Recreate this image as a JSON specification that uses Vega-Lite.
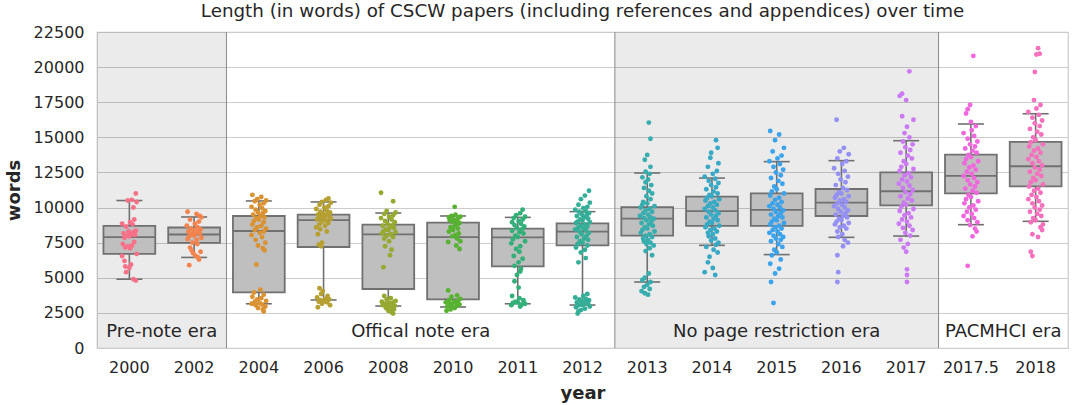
{
"$schema": "https://vega.github.io/schema/vega-lite/v6.json",
"width": 971, "height": 316,
"autosize": {"type": "none"},
"padding": {"left": 97, "top": 32, "right": 10, "bottom": 57},
"background": "white",
"title": {"text": "Length (in words) of CSCW papers (including references and appendices) over time", "fontSize": 18.3, "font": "DejaVu Sans", "fontWeight": "normal", "color": "#262626", "offset": 3},
"config": {
  "font": "DejaVu Sans",
  "view": {"stroke": "#cccccc", "strokeWidth": 1.25},
  "axis": {"labelFont": "DejaVu Sans", "titleFont": "DejaVu Sans", "labelColor": "#262626", "titleColor": "#262626", "labelFontSize": 16, "titleFontSize": 18, "titleFontWeight": "bold", "ticks": false, "domain": false},
  "axisY": {"grid": true, "gridColor": "#cccccc", "gridWidth": 1, "labelPadding": 13, "titlePadding": 10},
  "axisX": {"grid": false, "labelAngle": 0, "labelPadding": 11, "titlePadding": 9}
},
"datasets": {
  "eras": [
    {"era": "Pre-note era", "s": 0, "e": 2, "mid": 1, "shade": 1},
    {"era": "Offical note era", "s": 2, "e": 8, "mid": 5, "shade": 0},
    {"era": "No page restriction era", "s": 8, "e": 13, "mid": 10.5, "shade": 1},
    {"era": "PACMHCI era", "s": 13, "e": 15, "mid": 14, "shade": 0}
  ],
  "boxes": [
    {"year": "2000", "lo": 4900, "q1": 6700, "med": 7900, "q3": 8700, "hi": 10500},
    {"year": "2002", "lo": 6450, "q1": 7480, "med": 8080, "q3": 8580, "hi": 9330},
    {"year": "2004", "lo": 3150, "q1": 3960, "med": 8330, "q3": 9400, "hi": 10470},
    {"year": "2006", "lo": 3420, "q1": 7190, "med": 9110, "q3": 9490, "hi": 10400},
    {"year": "2008", "lo": 2990, "q1": 4200, "med": 8090, "q3": 8780, "hi": 9610},
    {"year": "2010", "lo": 2920, "q1": 3460, "med": 7900, "q3": 8920, "hi": 9400},
    {"year": "2011", "lo": 3150, "q1": 5810, "med": 7880, "q3": 8500, "hi": 9300},
    {"year": "2012", "lo": 3060, "q1": 7310, "med": 8280, "q3": 8880, "hi": 9710},
    {"year": "2013", "lo": 4700, "q1": 8000, "med": 9210, "q3": 10020, "hi": 12460},
    {"year": "2014", "lo": 7310, "q1": 8690, "med": 9750, "q3": 10780, "hi": 12100},
    {"year": "2015", "lo": 6650, "q1": 8690, "med": 9830, "q3": 11010, "hi": 13270},
    {"year": "2016", "lo": 7880, "q1": 9400, "med": 10350, "q3": 11320, "hi": 13340},
    {"year": "2017", "lo": 7970, "q1": 10160, "med": 11160, "q3": 12510, "hi": 14760},
    {"year": "2017.5", "lo": 8780, "q1": 11010, "med": 12250, "q3": 13770, "hi": 15950},
    {"year": "2018", "lo": 9020, "q1": 11510, "med": 12940, "q3": 14670, "hi": 16680}
  ],
  "pts": [
{"year":"2000","words":11000,"jit":0.8},{"year":"2000","words":10550,"jit":0.3},{"year":"2000","words":10500,"jit":-0.2},{"year":"2000","words":10400,"jit":0.9},{"year":"2000","words":10000,"jit":0.5},{"year":"2000","words":9150,"jit":0.6},{"year":"2000","words":8950,"jit":0.1},{"year":"2000","words":8850,"jit":-0.9},{"year":"2000","words":8800,"jit":0.4},{"year":"2000","words":8650,"jit":-0.4},{"year":"2000","words":8350,"jit":0.8},{"year":"2000","words":8300,"jit":-0.1},{"year":"2000","words":8250,"jit":0.5},{"year":"2000","words":8150,"jit":-0.7},{"year":"2000","words":8100,"jit":0.2},{"year":"2000","words":8050,"jit":0.7},{"year":"2000","words":8000,"jit":-0.3},{"year":"2000","words":7950,"jit":0},{"year":"2000","words":7850,"jit":-0.6},{"year":"2000","words":7550,"jit":0.6},{"year":"2000","words":7400,"jit":-0.8},{"year":"2000","words":7300,"jit":0.3},{"year":"2000","words":7250,"jit":-0.2},{"year":"2000","words":7150,"jit":-0.5},{"year":"2000","words":7100,"jit":0.1},{"year":"2000","words":6700,"jit":0.9},{"year":"2000","words":6550,"jit":-0.9},{"year":"2000","words":6200,"jit":-0.6},{"year":"2000","words":5950,"jit":0.2},{"year":"2000","words":5800,"jit":-0.5},{"year":"2000","words":5700,"jit":0},{"year":"2000","words":5400,"jit":-0.4},{"year":"2000","words":4900,"jit":0.5},{"year":"2000","words":4800,"jit":0.8},
{"year":"2002","words":9700,"jit":-0.8},{"year":"2002","words":9550,"jit":0.3},{"year":"2002","words":9400,"jit":0.7},{"year":"2002","words":9300,"jit":0.9},{"year":"2002","words":9150,"jit":-0.5},{"year":"2002","words":9000,"jit":0.6},{"year":"2002","words":8850,"jit":0.1},{"year":"2002","words":8700,"jit":-0.9},{"year":"2002","words":8600,"jit":0.4},{"year":"2002","words":8500,"jit":-0.4},{"year":"2002","words":8450,"jit":0.8},{"year":"2002","words":8400,"jit":-0.1},{"year":"2002","words":8350,"jit":0.5},{"year":"2002","words":8300,"jit":-0.7},{"year":"2002","words":8200,"jit":0.2},{"year":"2002","words":8150,"jit":0.7},{"year":"2002","words":8100,"jit":-0.3},{"year":"2002","words":8000,"jit":0},{"year":"2002","words":7950,"jit":-0.6},{"year":"2002","words":7850,"jit":0.9},{"year":"2002","words":7750,"jit":-0.8},{"year":"2002","words":7700,"jit":0.3},{"year":"2002","words":7500,"jit":-0.2},{"year":"2002","words":7400,"jit":0.4},{"year":"2002","words":7150,"jit":-0.5},{"year":"2002","words":6950,"jit":-0.3},{"year":"2002","words":6850,"jit":0.8},{"year":"2002","words":6750,"jit":-0.1},{"year":"2002","words":6550,"jit":0.2},{"year":"2002","words":6450,"jit":0.5},{"year":"2002","words":6300,"jit":0.6},{"year":"2002","words":5900,"jit":-0.6},
{"year":"2004","words":10900,"jit":-0.8},{"year":"2004","words":10750,"jit":0.3},{"year":"2004","words":10600,"jit":-0.2},{"year":"2004","words":10500,"jit":0.9},{"year":"2004","words":10450,"jit":-0.5},{"year":"2004","words":10300,"jit":0.6},{"year":"2004","words":10200,"jit":0.1},{"year":"2004","words":10050,"jit":-0.9},{"year":"2004","words":9950,"jit":0.4},{"year":"2004","words":9850,"jit":-0.4},{"year":"2004","words":9750,"jit":0.8},{"year":"2004","words":9650,"jit":-0.1},{"year":"2004","words":9600,"jit":0.5},{"year":"2004","words":9500,"jit":-0.7},{"year":"2004","words":9400,"jit":0.2},{"year":"2004","words":9300,"jit":0.7},{"year":"2004","words":9250,"jit":-0.3},{"year":"2004","words":9150,"jit":0},{"year":"2004","words":9050,"jit":-0.6},{"year":"2004","words":8950,"jit":0.6},{"year":"2004","words":8800,"jit":-0.8},{"year":"2004","words":8700,"jit":0.3},{"year":"2004","words":8600,"jit":-0.2},{"year":"2004","words":8500,"jit":0.9},{"year":"2004","words":8400,"jit":-0.5},{"year":"2004","words":8300,"jit":0.6},{"year":"2004","words":8200,"jit":0.1},{"year":"2004","words":8050,"jit":-0.9},{"year":"2004","words":7900,"jit":0.4},{"year":"2004","words":7700,"jit":-0.4},{"year":"2004","words":7500,"jit":0.8},{"year":"2004","words":7300,"jit":-0.1},{"year":"2004","words":7100,"jit":0.5},{"year":"2004","words":6950,"jit":0.7},{"year":"2004","words":5950,"jit":-0.3},{"year":"2004","words":4150,"jit":0.2},{"year":"2004","words":3950,"jit":-0.6},{"year":"2004","words":3800,"jit":0.6},{"year":"2004","words":3650,"jit":-0.8},{"year":"2004","words":3550,"jit":0.3},{"year":"2004","words":3450,"jit":-0.2},{"year":"2004","words":3350,"jit":0.9},{"year":"2004","words":3300,"jit":-0.5},{"year":"2004","words":3200,"jit":0.1},{"year":"2004","words":3150,"jit":-0.9},{"year":"2004","words":3100,"jit":0.4},{"year":"2004","words":3050,"jit":-0.4},{"year":"2004","words":2950,"jit":0.8},{"year":"2004","words":2850,"jit":-0.1},{"year":"2004","words":2750,"jit":0.5},{"year":"2004","words":2600,"jit":0.6},
{"year":"2006","words":10650,"jit":0.6},{"year":"2006","words":10550,"jit":0.3},{"year":"2006","words":10400,"jit":-0.2},{"year":"2006","words":10350,"jit":0.9},{"year":"2006","words":10200,"jit":-0.5},{"year":"2006","words":10100,"jit":0.6},{"year":"2006","words":10000,"jit":0.1},{"year":"2006","words":9900,"jit":-0.9},{"year":"2006","words":9800,"jit":0.4},{"year":"2006","words":9700,"jit":-0.4},{"year":"2006","words":9650,"jit":0.8},{"year":"2006","words":9600,"jit":-0.1},{"year":"2006","words":9550,"jit":0.5},{"year":"2006","words":9500,"jit":-0.7},{"year":"2006","words":9450,"jit":0.2},{"year":"2006","words":9400,"jit":0.7},{"year":"2006","words":9350,"jit":-0.3},{"year":"2006","words":9300,"jit":0},{"year":"2006","words":9250,"jit":-0.6},{"year":"2006","words":9200,"jit":0.9},{"year":"2006","words":9150,"jit":-0.8},{"year":"2006","words":9100,"jit":0.3},{"year":"2006","words":9000,"jit":-0.2},{"year":"2006","words":8900,"jit":0.6},{"year":"2006","words":8800,"jit":-0.5},{"year":"2006","words":8700,"jit":0.2},{"year":"2006","words":8600,"jit":-0.9},{"year":"2006","words":8450,"jit":-0.4},{"year":"2006","words":8300,"jit":0.4},{"year":"2006","words":8100,"jit":-0.7},{"year":"2006","words":7500,"jit":-0.2},{"year":"2006","words":7350,"jit":-0.6},{"year":"2006","words":7250,"jit":-0.3},{"year":"2006","words":4250,"jit":-0.5},{"year":"2006","words":4050,"jit":-0.1},{"year":"2006","words":3850,"jit":-0.3},{"year":"2006","words":3700,"jit":0.5},{"year":"2006","words":3600,"jit":-0.8},{"year":"2006","words":3500,"jit":0.2},{"year":"2006","words":3450,"jit":0.7},{"year":"2006","words":3400,"jit":-0.4},{"year":"2006","words":3350,"jit":0.1},{"year":"2006","words":3300,"jit":-0.6},{"year":"2006","words":3250,"jit":0.4},{"year":"2006","words":3150,"jit":-0.2},{"year":"2006","words":3050,"jit":0.8},{"year":"2006","words":2900,"jit":-0.7},
{"year":"2008","words":11050,"jit":-0.9},{"year":"2008","words":10450,"jit":0.6},{"year":"2008","words":9750,"jit":-0.2},{"year":"2008","words":9650,"jit":0.9},{"year":"2008","words":9550,"jit":-0.5},{"year":"2008","words":9450,"jit":0.6},{"year":"2008","words":9350,"jit":0.1},{"year":"2008","words":9250,"jit":-0.9},{"year":"2008","words":9150,"jit":0.4},{"year":"2008","words":9050,"jit":-0.4},{"year":"2008","words":8950,"jit":0.8},{"year":"2008","words":8850,"jit":-0.1},{"year":"2008","words":8750,"jit":0.5},{"year":"2008","words":8700,"jit":-0.7},{"year":"2008","words":8600,"jit":0.2},{"year":"2008","words":8550,"jit":0.7},{"year":"2008","words":8450,"jit":-0.3},{"year":"2008","words":8400,"jit":0},{"year":"2008","words":8300,"jit":-0.6},{"year":"2008","words":8250,"jit":0.9},{"year":"2008","words":8150,"jit":-0.8},{"year":"2008","words":8100,"jit":0.3},{"year":"2008","words":8000,"jit":-0.2},{"year":"2008","words":7900,"jit":0.6},{"year":"2008","words":7800,"jit":-0.5},{"year":"2008","words":7600,"jit":0.1},{"year":"2008","words":7250,"jit":-0.4},{"year":"2008","words":7000,"jit":0.4},{"year":"2008","words":6600,"jit":0.2},{"year":"2008","words":5750,"jit":-0.6},{"year":"2008","words":3700,"jit":-0.5},{"year":"2008","words":3550,"jit":0.3},{"year":"2008","words":3450,"jit":-0.2},{"year":"2008","words":3350,"jit":0.9},{"year":"2008","words":3300,"jit":-0.8},{"year":"2008","words":3250,"jit":0.6},{"year":"2008","words":3200,"jit":0.1},{"year":"2008","words":3150,"jit":-0.4},{"year":"2008","words":3100,"jit":0.4},{"year":"2008","words":3050,"jit":-0.7},{"year":"2008","words":3000,"jit":0.8},{"year":"2008","words":2950,"jit":-0.1},{"year":"2008","words":2900,"jit":0.5},{"year":"2008","words":2850,"jit":-0.3},{"year":"2008","words":2800,"jit":0.2},{"year":"2008","words":2750,"jit":0.7},{"year":"2008","words":2650,"jit":0},{"year":"2008","words":2550,"jit":0.4},{"year":"2008","words":2450,"jit":0.6},
{"year":"2010","words":10050,"jit":0.2},{"year":"2010","words":9500,"jit":0.3},{"year":"2010","words":9400,"jit":-0.2},{"year":"2010","words":9350,"jit":0.9},{"year":"2010","words":9300,"jit":-0.5},{"year":"2010","words":9200,"jit":0.6},{"year":"2010","words":9150,"jit":0.1},{"year":"2010","words":9100,"jit":-0.4},{"year":"2010","words":9050,"jit":0.4},{"year":"2010","words":9000,"jit":-0.1},{"year":"2010","words":8900,"jit":0.8},{"year":"2010","words":8800,"jit":0.5},{"year":"2010","words":8700,"jit":0.2},{"year":"2010","words":8600,"jit":-0.3},{"year":"2010","words":8500,"jit":0.6},{"year":"2010","words":8400,"jit":0},{"year":"2010","words":8300,"jit":-0.5},{"year":"2010","words":8150,"jit":0.7},{"year":"2010","words":8050,"jit":0.3},{"year":"2010","words":7950,"jit":-0.1},{"year":"2010","words":7800,"jit":0.5},{"year":"2010","words":7600,"jit":0.9},{"year":"2010","words":7550,"jit":-0.6},{"year":"2010","words":7300,"jit":0.4},{"year":"2010","words":7050,"jit":0.8},{"year":"2010","words":4100,"jit":-0.6},{"year":"2010","words":3750,"jit":0.5},{"year":"2010","words":3650,"jit":-0.2},{"year":"2010","words":3500,"jit":0.9},{"year":"2010","words":3400,"jit":-0.5},{"year":"2010","words":3350,"jit":0.6},{"year":"2010","words":3300,"jit":0.1},{"year":"2010","words":3250,"jit":-0.9},{"year":"2010","words":3200,"jit":0.4},{"year":"2010","words":3150,"jit":-0.4},{"year":"2010","words":3100,"jit":0.8},{"year":"2010","words":3050,"jit":-0.1},{"year":"2010","words":3000,"jit":0.5},{"year":"2010","words":2950,"jit":-0.7},{"year":"2010","words":2850,"jit":0.2},{"year":"2010","words":2750,"jit":-0.3},{"year":"2010","words":2650,"jit":-0.8},
{"year":"2011","words":9850,"jit":0.6},{"year":"2011","words":9600,"jit":0.3},{"year":"2011","words":9450,"jit":-0.2},{"year":"2011","words":9350,"jit":0.9},{"year":"2011","words":9250,"jit":-0.5},{"year":"2011","words":9150,"jit":0.6},{"year":"2011","words":9050,"jit":0.1},{"year":"2011","words":8950,"jit":-0.7},{"year":"2011","words":8850,"jit":0.4},{"year":"2011","words":8750,"jit":-0.4},{"year":"2011","words":8650,"jit":0.8},{"year":"2011","words":8550,"jit":-0.1},{"year":"2011","words":8450,"jit":0.5},{"year":"2011","words":8350,"jit":-0.7},{"year":"2011","words":8250,"jit":0.2},{"year":"2011","words":8150,"jit":0.7},{"year":"2011","words":8000,"jit":-0.3},{"year":"2011","words":7900,"jit":0},{"year":"2011","words":7750,"jit":-0.6},{"year":"2011","words":7600,"jit":0.9},{"year":"2011","words":7450,"jit":-0.8},{"year":"2011","words":7250,"jit":0.3},{"year":"2011","words":7050,"jit":-0.2},{"year":"2011","words":6850,"jit":0.2},{"year":"2011","words":6550,"jit":-0.5},{"year":"2011","words":6350,"jit":0.6},{"year":"2011","words":6100,"jit":0.1},{"year":"2011","words":5850,"jit":-0.4},{"year":"2011","words":5650,"jit":0.4},{"year":"2011","words":5450,"jit":0.3},{"year":"2011","words":5200,"jit":-0.1},{"year":"2011","words":4750,"jit":-0.4},{"year":"2011","words":4300,"jit":0.1},{"year":"2011","words":3700,"jit":-0.7},{"year":"2011","words":3550,"jit":0.2},{"year":"2011","words":3400,"jit":0.7},{"year":"2011","words":3300,"jit":-0.3},{"year":"2011","words":3250,"jit":0},{"year":"2011","words":3200,"jit":-0.6},{"year":"2011","words":3150,"jit":0.9},{"year":"2011","words":3100,"jit":0.5},{"year":"2011","words":3050,"jit":-0.8},{"year":"2011","words":2950,"jit":0.3},
{"year":"2012","words":11200,"jit":0.8},{"year":"2012","words":10850,"jit":0.3},{"year":"2012","words":10600,"jit":-0.2},{"year":"2012","words":10350,"jit":0.9},{"year":"2012","words":10200,"jit":-0.5},{"year":"2012","words":10050,"jit":0.6},{"year":"2012","words":9950,"jit":0.1},{"year":"2012","words":9850,"jit":-0.9},{"year":"2012","words":9750,"jit":0.4},{"year":"2012","words":9700,"jit":-0.4},{"year":"2012","words":9600,"jit":0.8},{"year":"2012","words":9500,"jit":-0.1},{"year":"2012","words":9450,"jit":0.5},{"year":"2012","words":9400,"jit":-0.7},{"year":"2012","words":9300,"jit":0.2},{"year":"2012","words":9200,"jit":0.7},{"year":"2012","words":9150,"jit":-0.3},{"year":"2012","words":9100,"jit":0},{"year":"2012","words":9000,"jit":-0.6},{"year":"2012","words":8950,"jit":0.9},{"year":"2012","words":8900,"jit":-0.8},{"year":"2012","words":8800,"jit":0.3},{"year":"2012","words":8700,"jit":-0.2},{"year":"2012","words":8650,"jit":0.6},{"year":"2012","words":8600,"jit":-0.5},{"year":"2012","words":8500,"jit":0.1},{"year":"2012","words":8450,"jit":-0.9},{"year":"2012","words":8400,"jit":0.4},{"year":"2012","words":8300,"jit":-0.4},{"year":"2012","words":8200,"jit":0.8},{"year":"2012","words":8100,"jit":-0.1},{"year":"2012","words":8000,"jit":0.5},{"year":"2012","words":7900,"jit":-0.7},{"year":"2012","words":7800,"jit":0.2},{"year":"2012","words":7700,"jit":0.7},{"year":"2012","words":7600,"jit":-0.3},{"year":"2012","words":7500,"jit":0},{"year":"2012","words":7400,"jit":-0.6},{"year":"2012","words":7300,"jit":0.6},{"year":"2012","words":7150,"jit":-0.8},{"year":"2012","words":7000,"jit":0.3},{"year":"2012","words":6800,"jit":-0.2},{"year":"2012","words":6400,"jit":0.4},{"year":"2012","words":6100,"jit":-0.5},{"year":"2012","words":3850,"jit":0.6},{"year":"2012","words":3700,"jit":0.1},{"year":"2012","words":3600,"jit":-0.9},{"year":"2012","words":3500,"jit":0.4},{"year":"2012","words":3450,"jit":-0.4},{"year":"2012","words":3400,"jit":0.8},{"year":"2012","words":3350,"jit":-0.1},{"year":"2012","words":3300,"jit":0.5},{"year":"2012","words":3250,"jit":-0.7},{"year":"2012","words":3200,"jit":0.2},{"year":"2012","words":3150,"jit":0.7},{"year":"2012","words":3100,"jit":-0.3},{"year":"2012","words":3050,"jit":0},{"year":"2012","words":3000,"jit":-0.6},{"year":"2012","words":2950,"jit":0.9},{"year":"2012","words":2900,"jit":-0.8},{"year":"2012","words":2800,"jit":0.3},{"year":"2012","words":2700,"jit":-0.2},{"year":"2012","words":2600,"jit":-0.5},{"year":"2012","words":2450,"jit":-0.6},
{"year":"2013","words":16050,"jit":0.2},{"year":"2013","words":14900,"jit":0.4},{"year":"2013","words":13750,"jit":0},{"year":"2013","words":13400,"jit":-0.3},{"year":"2013","words":12900,"jit":0.4},{"year":"2013","words":12550,"jit":-0.2},{"year":"2013","words":12400,"jit":0.3},{"year":"2013","words":12150,"jit":-0.6},{"year":"2013","words":12000,"jit":0.1},{"year":"2013","words":11800,"jit":-0.2},{"year":"2013","words":11600,"jit":0.5},{"year":"2013","words":11400,"jit":-0.4},{"year":"2013","words":11200,"jit":0.2},{"year":"2013","words":11000,"jit":0.6},{"year":"2013","words":10800,"jit":-0.1},{"year":"2013","words":10600,"jit":0.4},{"year":"2013","words":10400,"jit":-0.5},{"year":"2013","words":10300,"jit":0},{"year":"2013","words":10200,"jit":-0.6},{"year":"2013","words":10100,"jit":0.9},{"year":"2013","words":10000,"jit":-0.8},{"year":"2013","words":9900,"jit":0.3},{"year":"2013","words":9800,"jit":-0.2},{"year":"2013","words":9700,"jit":0.6},{"year":"2013","words":9600,"jit":-0.5},{"year":"2013","words":9500,"jit":0.1},{"year":"2013","words":9400,"jit":-0.9},{"year":"2013","words":9300,"jit":0.4},{"year":"2013","words":9250,"jit":-0.4},{"year":"2013","words":9200,"jit":0.8},{"year":"2013","words":9100,"jit":-0.1},{"year":"2013","words":9000,"jit":0.5},{"year":"2013","words":8900,"jit":-0.7},{"year":"2013","words":8800,"jit":0.2},{"year":"2013","words":8700,"jit":0.7},{"year":"2013","words":8600,"jit":-0.3},{"year":"2013","words":8500,"jit":0},{"year":"2013","words":8400,"jit":-0.6},{"year":"2013","words":8300,"jit":0.9},{"year":"2013","words":8200,"jit":-0.8},{"year":"2013","words":8100,"jit":0.3},{"year":"2013","words":8000,"jit":-0.2},{"year":"2013","words":7900,"jit":0.6},{"year":"2013","words":7800,"jit":-0.5},{"year":"2013","words":7700,"jit":0.1},{"year":"2013","words":7600,"jit":-0.4},{"year":"2013","words":7500,"jit":0.4},{"year":"2013","words":7400,"jit":-0.1},{"year":"2013","words":7300,"jit":0.8},{"year":"2013","words":7100,"jit":0.3},{"year":"2013","words":6900,"jit":-0.2},{"year":"2013","words":6600,"jit":0.6},{"year":"2013","words":5300,"jit":0.2},{"year":"2013","words":5000,"jit":-0.3},{"year":"2013","words":4850,"jit":-0.6},{"year":"2013","words":4700,"jit":0.4},{"year":"2013","words":4500,"jit":0},{"year":"2013","words":4350,"jit":-0.4},{"year":"2013","words":4200,"jit":0.3},{"year":"2013","words":4050,"jit":-0.7},{"year":"2013","words":3900,"jit":-0.3},{"year":"2013","words":3800,"jit":0.1},
{"year":"2014","words":14800,"jit":0.5},{"year":"2014","words":14250,"jit":0.7},{"year":"2014","words":13900,"jit":-0.1},{"year":"2014","words":13550,"jit":-0.2},{"year":"2014","words":13150,"jit":0.8},{"year":"2014","words":12900,"jit":-0.5},{"year":"2014","words":12600,"jit":0.6},{"year":"2014","words":12400,"jit":0.1},{"year":"2014","words":12200,"jit":-0.9},{"year":"2014","words":12050,"jit":0.4},{"year":"2014","words":11900,"jit":-0.4},{"year":"2014","words":11750,"jit":0.8},{"year":"2014","words":11600,"jit":-0.1},{"year":"2014","words":11450,"jit":0.5},{"year":"2014","words":11300,"jit":-0.7},{"year":"2014","words":11150,"jit":0.2},{"year":"2014","words":11000,"jit":0.7},{"year":"2014","words":10900,"jit":-0.3},{"year":"2014","words":10800,"jit":0},{"year":"2014","words":10700,"jit":-0.6},{"year":"2014","words":10600,"jit":0.9},{"year":"2014","words":10500,"jit":-0.8},{"year":"2014","words":10400,"jit":0.3},{"year":"2014","words":10300,"jit":-0.2},{"year":"2014","words":10200,"jit":0.6},{"year":"2014","words":10100,"jit":-0.5},{"year":"2014","words":10000,"jit":0.1},{"year":"2014","words":9900,"jit":-0.9},{"year":"2014","words":9800,"jit":0.4},{"year":"2014","words":9700,"jit":-0.4},{"year":"2014","words":9600,"jit":0.8},{"year":"2014","words":9500,"jit":-0.1},{"year":"2014","words":9400,"jit":0.5},{"year":"2014","words":9300,"jit":-0.7},{"year":"2014","words":9200,"jit":0.2},{"year":"2014","words":9100,"jit":0.7},{"year":"2014","words":9000,"jit":-0.3},{"year":"2014","words":8900,"jit":0},{"year":"2014","words":8800,"jit":-0.6},{"year":"2014","words":8700,"jit":0.9},{"year":"2014","words":8600,"jit":-0.8},{"year":"2014","words":8500,"jit":0.3},{"year":"2014","words":8400,"jit":-0.2},{"year":"2014","words":8300,"jit":0.6},{"year":"2014","words":8200,"jit":-0.5},{"year":"2014","words":8100,"jit":0.1},{"year":"2014","words":7950,"jit":-0.4},{"year":"2014","words":7800,"jit":0.4},{"year":"2014","words":7650,"jit":-0.1},{"year":"2014","words":7500,"jit":0.8},{"year":"2014","words":7350,"jit":0.5},{"year":"2014","words":7200,"jit":-0.7},{"year":"2014","words":7000,"jit":0.2},{"year":"2014","words":6800,"jit":0.7},{"year":"2014","words":6500,"jit":-0.3},{"year":"2014","words":6100,"jit":-0.5},{"year":"2014","words":5700,"jit":0.1},{"year":"2014","words":5400,"jit":-0.9},{"year":"2014","words":5200,"jit":0.4},
{"year":"2015","words":15450,"jit":-0.8},{"year":"2015","words":15200,"jit":0.3},{"year":"2015","words":14800,"jit":-0.2},{"year":"2015","words":14250,"jit":0.9},{"year":"2015","words":14000,"jit":-0.5},{"year":"2015","words":13700,"jit":0.6},{"year":"2015","words":13500,"jit":0.1},{"year":"2015","words":13300,"jit":-0.9},{"year":"2015","words":13100,"jit":0.4},{"year":"2015","words":12900,"jit":-0.4},{"year":"2015","words":12700,"jit":0.8},{"year":"2015","words":12500,"jit":-0.1},{"year":"2015","words":12300,"jit":0.5},{"year":"2015","words":12100,"jit":-0.7},{"year":"2015","words":11900,"jit":0.2},{"year":"2015","words":11700,"jit":0.7},{"year":"2015","words":11500,"jit":-0.3},{"year":"2015","words":11300,"jit":0},{"year":"2015","words":11150,"jit":-0.6},{"year":"2015","words":11000,"jit":0.9},{"year":"2015","words":10850,"jit":-0.8},{"year":"2015","words":10700,"jit":0.3},{"year":"2015","words":10550,"jit":-0.2},{"year":"2015","words":10400,"jit":0.6},{"year":"2015","words":10300,"jit":-0.5},{"year":"2015","words":10200,"jit":0.1},{"year":"2015","words":10100,"jit":-0.9},{"year":"2015","words":10000,"jit":0.4},{"year":"2015","words":9900,"jit":-0.4},{"year":"2015","words":9800,"jit":0.8},{"year":"2015","words":9700,"jit":-0.1},{"year":"2015","words":9600,"jit":0.5},{"year":"2015","words":9500,"jit":-0.7},{"year":"2015","words":9400,"jit":0.2},{"year":"2015","words":9300,"jit":0.7},{"year":"2015","words":9200,"jit":-0.3},{"year":"2015","words":9100,"jit":0},{"year":"2015","words":9000,"jit":-0.6},{"year":"2015","words":8900,"jit":0.9},{"year":"2015","words":8800,"jit":-0.8},{"year":"2015","words":8700,"jit":0.3},{"year":"2015","words":8600,"jit":-0.2},{"year":"2015","words":8500,"jit":0.6},{"year":"2015","words":8400,"jit":-0.5},{"year":"2015","words":8300,"jit":0.1},{"year":"2015","words":8200,"jit":-0.9},{"year":"2015","words":8100,"jit":0.4},{"year":"2015","words":8000,"jit":-0.4},{"year":"2015","words":7900,"jit":0.8},{"year":"2015","words":7800,"jit":-0.1},{"year":"2015","words":7700,"jit":0.5},{"year":"2015","words":7600,"jit":-0.7},{"year":"2015","words":7400,"jit":0.2},{"year":"2015","words":7200,"jit":0.7},{"year":"2015","words":7000,"jit":-0.3},{"year":"2015","words":6800,"jit":0},{"year":"2015","words":6600,"jit":-0.6},{"year":"2015","words":6300,"jit":0.5},{"year":"2015","words":6000,"jit":-0.8},{"year":"2015","words":5650,"jit":0.3},{"year":"2015","words":5300,"jit":-0.2},{"year":"2015","words":4700,"jit":-0.7},{"year":"2015","words":3200,"jit":-0.4},
{"year":"2016","words":16250,"jit":-0.6},{"year":"2016","words":14250,"jit":0.3},{"year":"2016","words":14000,"jit":-0.2},{"year":"2016","words":13800,"jit":0.9},{"year":"2016","words":13500,"jit":-0.5},{"year":"2016","words":13300,"jit":0.6},{"year":"2016","words":13100,"jit":0.1},{"year":"2016","words":12800,"jit":-0.9},{"year":"2016","words":12600,"jit":0.4},{"year":"2016","words":12400,"jit":-0.4},{"year":"2016","words":12200,"jit":0.8},{"year":"2016","words":12000,"jit":-0.1},{"year":"2016","words":11800,"jit":0.5},{"year":"2016","words":11600,"jit":-0.7},{"year":"2016","words":11400,"jit":0.2},{"year":"2016","words":11250,"jit":0.7},{"year":"2016","words":11100,"jit":-0.3},{"year":"2016","words":11000,"jit":0},{"year":"2016","words":10900,"jit":-0.6},{"year":"2016","words":10800,"jit":0.9},{"year":"2016","words":10700,"jit":-0.8},{"year":"2016","words":10600,"jit":0.3},{"year":"2016","words":10500,"jit":-0.2},{"year":"2016","words":10400,"jit":0.6},{"year":"2016","words":10300,"jit":-0.5},{"year":"2016","words":10200,"jit":0.1},{"year":"2016","words":10100,"jit":-0.9},{"year":"2016","words":10000,"jit":0.4},{"year":"2016","words":9900,"jit":-0.4},{"year":"2016","words":9800,"jit":0.8},{"year":"2016","words":9700,"jit":-0.1},{"year":"2016","words":9600,"jit":0.5},{"year":"2016","words":9500,"jit":-0.7},{"year":"2016","words":9400,"jit":0.2},{"year":"2016","words":9300,"jit":0.7},{"year":"2016","words":9200,"jit":-0.3},{"year":"2016","words":9100,"jit":0},{"year":"2016","words":9000,"jit":-0.6},{"year":"2016","words":8900,"jit":0.9},{"year":"2016","words":8800,"jit":-0.8},{"year":"2016","words":8700,"jit":0.3},{"year":"2016","words":8600,"jit":-0.2},{"year":"2016","words":8500,"jit":0.6},{"year":"2016","words":8300,"jit":-0.5},{"year":"2016","words":8100,"jit":0.1},{"year":"2016","words":7900,"jit":-0.4},{"year":"2016","words":7700,"jit":0.4},{"year":"2016","words":7500,"jit":0.8},{"year":"2016","words":7250,"jit":0.2},{"year":"2016","words":6600,"jit":-0.5},{"year":"2016","words":5400,"jit":-0.4},{"year":"2016","words":4700,"jit":-0.5},
{"year":"2017","words":19700,"jit":0.4},{"year":"2017","words":18100,"jit":-0.5},{"year":"2017","words":17950,"jit":-0.8},{"year":"2017","words":17650,"jit":0},{"year":"2017","words":16500,"jit":-0.5},{"year":"2017","words":16250,"jit":0.9},{"year":"2017","words":15750,"jit":0.1},{"year":"2017","words":15300,"jit":-0.2},{"year":"2017","words":15000,"jit":0.4},{"year":"2017","words":14700,"jit":-0.4},{"year":"2017","words":14500,"jit":0.8},{"year":"2017","words":14300,"jit":-0.1},{"year":"2017","words":14100,"jit":0.5},{"year":"2017","words":13900,"jit":-0.7},{"year":"2017","words":13700,"jit":0.2},{"year":"2017","words":13500,"jit":0.7},{"year":"2017","words":13300,"jit":-0.3},{"year":"2017","words":13100,"jit":0},{"year":"2017","words":12900,"jit":-0.6},{"year":"2017","words":12750,"jit":0.9},{"year":"2017","words":12600,"jit":-0.8},{"year":"2017","words":12450,"jit":0.3},{"year":"2017","words":12300,"jit":-0.2},{"year":"2017","words":12150,"jit":0.6},{"year":"2017","words":12000,"jit":-0.5},{"year":"2017","words":11850,"jit":0.1},{"year":"2017","words":11700,"jit":-0.9},{"year":"2017","words":11550,"jit":0.4},{"year":"2017","words":11400,"jit":-0.4},{"year":"2017","words":11250,"jit":0.8},{"year":"2017","words":11100,"jit":-0.1},{"year":"2017","words":10950,"jit":0.5},{"year":"2017","words":10800,"jit":-0.7},{"year":"2017","words":10650,"jit":0.2},{"year":"2017","words":10500,"jit":0.7},{"year":"2017","words":10350,"jit":-0.3},{"year":"2017","words":10200,"jit":0},{"year":"2017","words":10050,"jit":-0.6},{"year":"2017","words":9900,"jit":0.9},{"year":"2017","words":9750,"jit":-0.8},{"year":"2017","words":9600,"jit":0.3},{"year":"2017","words":9450,"jit":-0.2},{"year":"2017","words":9300,"jit":0.6},{"year":"2017","words":9150,"jit":-0.5},{"year":"2017","words":9000,"jit":0.1},{"year":"2017","words":8850,"jit":-0.9},{"year":"2017","words":8700,"jit":0.4},{"year":"2017","words":8550,"jit":-0.4},{"year":"2017","words":8400,"jit":0.8},{"year":"2017","words":8200,"jit":-0.1},{"year":"2017","words":8000,"jit":0.5},{"year":"2017","words":7700,"jit":-0.7},{"year":"2017","words":7400,"jit":0.2},{"year":"2017","words":7150,"jit":-0.3},{"year":"2017","words":6850,"jit":0},{"year":"2017","words":5600,"jit":0.1},{"year":"2017","words":5200,"jit":0.1},{"year":"2017","words":4700,"jit":0.1},
{"year":"2017.5","words":20800,"jit":0.3},{"year":"2017.5","words":17300,"jit":-0.1},{"year":"2017.5","words":17000,"jit":-0.4},{"year":"2017.5","words":16700,"jit":-0.6},{"year":"2017.5","words":16100,"jit":0},{"year":"2017.5","words":15800,"jit":0.6},{"year":"2017.5","words":15500,"jit":0.1},{"year":"2017.5","words":15300,"jit":-0.9},{"year":"2017.5","words":15100,"jit":0.4},{"year":"2017.5","words":14900,"jit":-0.4},{"year":"2017.5","words":14700,"jit":0.8},{"year":"2017.5","words":14500,"jit":-0.1},{"year":"2017.5","words":14350,"jit":0.5},{"year":"2017.5","words":14200,"jit":-0.7},{"year":"2017.5","words":14050,"jit":0.2},{"year":"2017.5","words":13900,"jit":0.7},{"year":"2017.5","words":13750,"jit":-0.3},{"year":"2017.5","words":13600,"jit":0},{"year":"2017.5","words":13450,"jit":-0.6},{"year":"2017.5","words":13300,"jit":0.9},{"year":"2017.5","words":13150,"jit":-0.8},{"year":"2017.5","words":13000,"jit":0.3},{"year":"2017.5","words":12850,"jit":-0.2},{"year":"2017.5","words":12700,"jit":0.6},{"year":"2017.5","words":12550,"jit":-0.5},{"year":"2017.5","words":12400,"jit":0.1},{"year":"2017.5","words":12250,"jit":-0.9},{"year":"2017.5","words":12100,"jit":0.4},{"year":"2017.5","words":11950,"jit":-0.4},{"year":"2017.5","words":11800,"jit":0.8},{"year":"2017.5","words":11650,"jit":-0.1},{"year":"2017.5","words":11500,"jit":0.5},{"year":"2017.5","words":11350,"jit":-0.7},{"year":"2017.5","words":11200,"jit":0.2},{"year":"2017.5","words":11050,"jit":0.7},{"year":"2017.5","words":10900,"jit":-0.3},{"year":"2017.5","words":10750,"jit":0},{"year":"2017.5","words":10600,"jit":-0.6},{"year":"2017.5","words":10450,"jit":0.9},{"year":"2017.5","words":10300,"jit":-0.8},{"year":"2017.5","words":10150,"jit":0.3},{"year":"2017.5","words":10000,"jit":-0.2},{"year":"2017.5","words":9850,"jit":0.6},{"year":"2017.5","words":9700,"jit":-0.5},{"year":"2017.5","words":9550,"jit":0.1},{"year":"2017.5","words":9400,"jit":-0.9},{"year":"2017.5","words":9250,"jit":0.4},{"year":"2017.5","words":9100,"jit":-0.4},{"year":"2017.5","words":8950,"jit":0.8},{"year":"2017.5","words":8750,"jit":-0.1},{"year":"2017.5","words":8500,"jit":0.5},{"year":"2017.5","words":8300,"jit":0.7},{"year":"2017.5","words":7950,"jit":0.2},{"year":"2017.5","words":5850,"jit":-0.4},
{"year":"2018","words":21350,"jit":0.3},{"year":"2018","words":20950,"jit":0.5},{"year":"2018","words":20900,"jit":0.1},{"year":"2018","words":19650,"jit":-0.1},{"year":"2018","words":17650,"jit":-0.2},{"year":"2018","words":17300,"jit":0.6},{"year":"2018","words":17050,"jit":0.1},{"year":"2018","words":16800,"jit":-0.9},{"year":"2018","words":16600,"jit":0.4},{"year":"2018","words":16400,"jit":-0.4},{"year":"2018","words":16200,"jit":0.8},{"year":"2018","words":16000,"jit":-0.1},{"year":"2018","words":15800,"jit":0.5},{"year":"2018","words":15600,"jit":-0.7},{"year":"2018","words":15400,"jit":0.2},{"year":"2018","words":15200,"jit":0.7},{"year":"2018","words":15000,"jit":-0.3},{"year":"2018","words":14800,"jit":0},{"year":"2018","words":14650,"jit":-0.6},{"year":"2018","words":14500,"jit":0.9},{"year":"2018","words":14350,"jit":-0.8},{"year":"2018","words":14200,"jit":0.3},{"year":"2018","words":14050,"jit":-0.2},{"year":"2018","words":13900,"jit":0.6},{"year":"2018","words":13750,"jit":-0.5},{"year":"2018","words":13600,"jit":0.1},{"year":"2018","words":13450,"jit":-0.9},{"year":"2018","words":13300,"jit":0.4},{"year":"2018","words":13150,"jit":-0.4},{"year":"2018","words":13000,"jit":0.8},{"year":"2018","words":12850,"jit":-0.1},{"year":"2018","words":12700,"jit":0.5},{"year":"2018","words":12550,"jit":-0.7},{"year":"2018","words":12400,"jit":0.2},{"year":"2018","words":12250,"jit":0.7},{"year":"2018","words":12100,"jit":-0.3},{"year":"2018","words":11950,"jit":0},{"year":"2018","words":11800,"jit":-0.6},{"year":"2018","words":11650,"jit":0.9},{"year":"2018","words":11500,"jit":-0.8},{"year":"2018","words":11350,"jit":0.3},{"year":"2018","words":11200,"jit":-0.2},{"year":"2018","words":11050,"jit":0.6},{"year":"2018","words":10900,"jit":-0.5},{"year":"2018","words":10750,"jit":0.1},{"year":"2018","words":10600,"jit":-0.9},{"year":"2018","words":10450,"jit":0.4},{"year":"2018","words":10300,"jit":-0.4},{"year":"2018","words":10150,"jit":0.8},{"year":"2018","words":10000,"jit":-0.1},{"year":"2018","words":9850,"jit":0.5},{"year":"2018","words":9700,"jit":-0.7},{"year":"2018","words":9550,"jit":0.2},{"year":"2018","words":9400,"jit":0.7},{"year":"2018","words":9250,"jit":-0.3},{"year":"2018","words":9100,"jit":0},{"year":"2018","words":8950,"jit":-0.6},{"year":"2018","words":8800,"jit":0.9},{"year":"2018","words":8600,"jit":0.6},{"year":"2018","words":8400,"jit":0.8},{"year":"2018","words":8100,"jit":-0.4},{"year":"2018","words":7900,"jit":0.3},{"year":"2018","words":6850,"jit":-0.6},{"year":"2018","words":6550,"jit":-0.4}
  ]
},
"layer": [
  {
    "data": {"name": "eras"},
    "encoding": {"x": {"field": "s", "type": "quantitative", "scale": {"domain": [0, 15], "nice": false, "zero": false}, "axis": null}},
    "layer": [
      {"transform": [{"filter": "datum.shade == 1"}], "mark": {"type": "rect", "fill": "#000000", "opacity": 0.08}, "encoding": {"x2": {"field": "e"}}},
      {"transform": [{"filter": "datum.s > 0"}], "mark": {"type": "rule", "color": "#8a8a8a", "strokeWidth": 1}, "encoding": {}},
      {"mark": {"type": "text", "fontSize": 18, "color": "#262626", "baseline": "middle", "align": "center"}, "encoding": {"x": {"field": "mid", "type": "quantitative"}, "y": {"datum": 1150, "type": "quantitative", "scale": {"domain": [0, 22500], "nice": false}, "axis": {"values": [0,2500,5000,7500,10000,12500,15000,17500,20000,22500], "format": "d"}, "title": "words"}, "text": {"field": "era"}}}
    ]
  },
  {
    "data": {"name": "boxes"},
    "encoding": {"x": {"field": "year", "type": "nominal", "title": "year", "scale": {"domain": ["2000","2002","2004","2006","2008","2010","2011","2012","2013","2014","2015","2016","2017","2017.5","2018"], "paddingInner": 0.2, "paddingOuter": 0.1}}},
    "layer": [
      {"mark": {"type": "rule", "color": "#707070", "strokeWidth": 1.6}, "encoding": {"y": {"field": "lo", "type": "quantitative", "title": "words", "axis": {"values": [0,2500,5000,7500,10000,12500,15000,17500,20000,22500], "format": "d"}}, "y2": {"field": "hi"}}},
      {"mark": {"type": "bar", "fill": "#bfbfbf", "stroke": "#707070", "strokeWidth": 1.8}, "encoding": {"y": {"field": "q1", "type": "quantitative", "title": "words", "axis": {"values": [0,2500,5000,7500,10000,12500,15000,17500,20000,22500], "format": "d"}}, "y2": {"field": "q3"}}},
      {"mark": {"type": "tick", "color": "#707070", "size": 52, "thickness": 1.8, "opacity": 1}, "encoding": {"y": {"field": "med", "type": "quantitative", "title": "words", "axis": {"values": [0,2500,5000,7500,10000,12500,15000,17500,20000,22500], "format": "d"}}}},
      {"mark": {"type": "tick", "color": "#707070", "size": 26, "thickness": 1.6, "opacity": 1}, "encoding": {"y": {"field": "lo", "type": "quantitative", "title": "words", "axis": {"values": [0,2500,5000,7500,10000,12500,15000,17500,20000,22500], "format": "d"}}}},
      {"mark": {"type": "tick", "color": "#707070", "size": 26, "thickness": 1.6, "opacity": 1}, "encoding": {"y": {"field": "hi", "type": "quantitative", "title": "words", "axis": {"values": [0,2500,5000,7500,10000,12500,15000,17500,20000,22500], "format": "d"}}}}
    ]
  },
  {
    "data": {"name": "pts"},
    "mark": {"type": "circle", "size": 24, "opacity": 1},
    "encoding": {
      "x": {"field": "year", "type": "nominal", "axis": null, "scale": {"domain": ["2000","2002","2004","2006","2008","2010","2011","2012","2013","2014","2015","2016","2017","2017.5","2018"], "paddingInner": 0, "paddingOuter": 0}},
      "xOffset": {"field": "jit", "type": "quantitative", "scale": {"domain": [-4, 4]}},
      "y": {"field": "words", "type": "quantitative", "title": "words", "axis": {"values": [0,2500,5000,7500,10000,12500,15000,17500,20000,22500], "format": "d"}},
      "color": {"field": "year", "type": "nominal", "legend": null, "scale": {"domain": ["2000","2002","2004","2006","2008","2010","2011","2012","2013","2014","2015","2016","2017","2017.5","2018"], "range": ["#f77189","#f3844e","#db9232","#b5a031","#97a931","#58b231","#33b07a","#35ae98","#37adae","#38a9c5","#3ba3ec","#9590f4","#cc7af4","#f067de","#f570bd"]}}
    }
  }
],
"resolve": {"scale": {"x": "independent", "xOffset": "independent"}}
}
